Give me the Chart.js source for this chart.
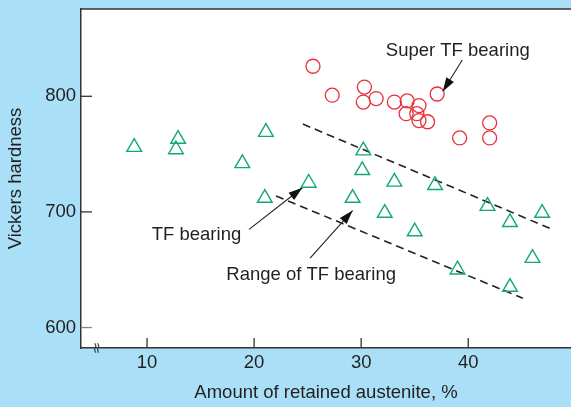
<!DOCTYPE html>
<html>
<head>
<meta charset="utf-8">
<script src="https://cdn.jsdelivr.net/npm/chart.js@4.4.1/dist/chart.umd.min.js"></script>
<style>
	html, body { margin: 0; padding: 0; background: #a9dff7; }
	#wrap { width: 571px; height: 407px; }
</style>
</head>
<body>
<div id="wrap"><canvas id="chart" width="571" height="407"></canvas></div>
<script>
// Super TF bearing (red circles)
var superX = [25.5, 27.3, 30.3, 30.2, 31.4, 33.1, 34.3, 35.4, 34.2, 35.2, 35.4, 36.2, 37.1, 39.2, 42.0, 42.0];
var superY = [826, 801, 808, 795, 798, 795, 796, 792, 785, 785, 779, 778, 802, 764, 777, 764];

// TF bearing (green triangles)
var tfX = [8.8, 12.9, 12.7, 21.1, 18.9, 25.1, 21.0, 30.2, 30.1, 33.1, 36.9, 29.2, 32.2, 35.0, 41.8, 43.9, 46.9, 46.0, 39.0, 43.9];
var tfY = [756, 763, 754, 769, 742, 725, 712, 753, 736, 726, 723, 712, 699, 683, 705, 691, 699, 660, 650, 635];

// range of TF bearing (dashed band)
var bandUpperX = [24.55, 47.7];
var bandUpperY = [776, 685.5];
var bandLowerX = [22.05, 45.1];
var bandLowerY = [713.8, 625.3];

// annotation arrows: [start, tip]
var arrowSuperX = [39.44, 37.62];
var arrowSuperY = [831.4, 804.2];
var arrowTfX = [19.53, 24.51];
var arrowTfY = [684.9, 720.9];
var arrowRangeX = [25.23, 29.2];
var arrowRangeY = [660.1, 701.2];

// annotation labels
var labelText = ['Super TF bearing', 'TF bearing', 'Range of TF bearing'];
var labelX = [32.3, 10.44, 17.4];
var labelY = [834.9, 675.7, 641.1];

var xTicks = [10, 20, 30, 40];
var yTicks = [600, 700, 800];

var textColor = '#231f20';
var fontFamily = '"Liberation Sans", Arial, sans-serif';

function pts(xs, ys) {
	return xs.map(function (x, i) {
		return { x: x, y: ys[i] };
	});
}

function lineSet(xs, ys, dash) {
	return {
		type: 'line',
		data: pts(xs, ys),
		borderColor: '#222',
		borderWidth: dash ? 1.6 : 1.1,
		borderDash: dash ? [8, 5] : [],
		pointRadius: 0,
		fill: false,
		tension: 0
	};
}

function noPad(s) {
	s.paddingLeft = 0;
	s.paddingRight = 0;
	s.paddingTop = 0;
	s.paddingBottom = 0;
}

var decorPlugin = {
	id: 'decor',
	beforeDraw: function (c) {
		var ctx = c.ctx, a = c.chartArea;
		ctx.save();
		ctx.fillStyle = '#a9dff7';
		ctx.fillRect(0, 0, c.width, c.height);
		ctx.fillStyle = '#ffffff';
		ctx.fillRect(a.left, a.top, a.right - a.left, a.bottom - a.top);
		ctx.restore();
	},
	afterDatasetsDraw: function (c) {
		var ctx = c.ctx, a = c.chartArea;
		var sx = c.scales.x, sy = c.scales.y;
		ctx.save();

		// top frame line
		ctx.strokeStyle = '#333';
		ctx.lineWidth = 1.5;
		ctx.beginPath();
		ctx.moveTo(a.left, a.top);
		ctx.lineTo(a.right, a.top);
		ctx.stroke();

		// inside tick marks
		ctx.lineWidth = 1.3;
		xTicks.forEach(function (v) {
			var px = sx.getPixelForValue(v);
			ctx.strokeStyle = '#333';
			ctx.beginPath();
			ctx.moveTo(px, a.bottom);
			ctx.lineTo(px, a.bottom - 10);
			ctx.stroke();
		});
		yTicks.forEach(function (v) {
			var py = sy.getPixelForValue(v);
			ctx.strokeStyle = v == 600 ? '#888' : '#333';
			ctx.beginPath();
			ctx.moveTo(a.left, py);
			ctx.lineTo(a.left + 11, py);
			ctx.stroke();
		});

		// axis break mark
		ctx.fillStyle = '#444';
		ctx.font = '15px "DejaVu Sans", sans-serif';
		ctx.textAlign = 'center';
		ctx.textBaseline = 'middle';
		ctx.translate(sx.getPixelForValue(5.2), a.bottom);
		ctx.rotate(Math.PI / 2);
		ctx.fillText('\u2248', 0, 0);
		ctx.restore();

		// arrow heads
		ctx.save();
		ctx.fillStyle = '#111';
		[[arrowSuperX, arrowSuperY], [arrowTfX, arrowTfY], [arrowRangeX, arrowRangeY]].forEach(function (ar) {
			var x0 = sx.getPixelForValue(ar[0][0]), y0 = sy.getPixelForValue(ar[1][0]);
			var x1 = sx.getPixelForValue(ar[0][1]), y1 = sy.getPixelForValue(ar[1][1]);
			var ang = Math.atan2(y1 - y0, x1 - x0);
			var len = 14, half = 4.5;
			ctx.beginPath();
			ctx.moveTo(x1, y1);
			ctx.lineTo(x1 - len * Math.cos(ang) + half * Math.sin(ang), y1 - len * Math.sin(ang) - half * Math.cos(ang));
			ctx.lineTo(x1 - len * Math.cos(ang) - half * Math.sin(ang), y1 - len * Math.sin(ang) + half * Math.cos(ang));
			ctx.closePath();
			ctx.fill();
		});

		// labels
		ctx.fillStyle = textColor;
		ctx.font = '18.5px ' + fontFamily;
		ctx.textAlign = 'left';
		ctx.textBaseline = 'alphabetic';
		labelText.forEach(function (t, i) {
			ctx.fillText(t, sx.getPixelForValue(labelX[i]), sy.getPixelForValue(labelY[i]));
		});
		ctx.restore();
	}
};

var ctx = document.getElementById('chart').getContext('2d');
var chart = new Chart(ctx, {
	type: 'scatter',
	data: {
		datasets: [
			{
				label: 'Super TF bearing',
				data: pts(superX, superY),
				pointStyle: 'circle',
				pointRadius: 7,
				borderColor: '#e8303a',
				backgroundColor: 'rgba(0,0,0,0)',
				borderWidth: 1.3
			},
			{
				label: 'TF bearing',
				data: pts(tfX, tfY),
				pointStyle: 'triangle',
				pointRadius: 8.5,
				borderColor: '#13a878',
				backgroundColor: 'rgba(0,0,0,0)',
				borderWidth: 1.4
			},
			lineSet(bandUpperX, bandUpperY, true),
			lineSet(bandLowerX, bandLowerY, true),
			lineSet(arrowSuperX, arrowSuperY, false),
			lineSet(arrowTfX, arrowTfY, false),
			lineSet(arrowRangeX, arrowRangeY, false)
		]
	},
	options: {
		responsive: false,
		animation: false,
		layout: { autoPadding: false, padding: { top: 9, right: 0, left: 0, bottom: 0 } },
		plugins: {
			legend: { display: false },
			tooltip: { enabled: false }
		},
		scales: {
			x: {
				type: 'linear',
				min: 3.83,
				max: 49.6,
				afterFit: function (s) { s.height = 59; noPad(s); },
				afterBuildTicks: function (s) {
					s.ticks = xTicks.map(function (v) { return { value: v }; });
				},
				grid: { display: false, drawTicks: false },
				border: { display: true, color: '#333', width: 1.5 },
				ticks: {
					padding: 4,
					color: textColor,
					font: { family: fontFamily, size: 18.5 }
				},
				title: {
					display: true,
					text: 'Amount of retained austenite, %',
					color: textColor,
					padding: { top: 0, bottom: 3 },
					font: { family: fontFamily, size: 18.5 }
				}
			},
			y: {
				type: 'linear',
				min: 582.3,
				max: 875.5,
				afterFit: function (s) { s.width = 81; noPad(s); },
				afterBuildTicks: function (s) {
					s.ticks = yTicks.map(function (v) { return { value: v }; });
				},
				grid: { display: false, drawTicks: false },
				border: { display: true, color: '#333', width: 1.5 },
				ticks: {
					padding: 5,
					color: textColor,
					font: { family: fontFamily, size: 18.5 }
				},
				title: {
					display: true,
					text: 'Vickers hardness',
					color: textColor,
					padding: { top: 5, bottom: 0 },
					font: { family: fontFamily, size: 18.5 }
				}
			}
		}
	},
	plugins: [decorPlugin]
});
</script>
</body>
</html>
